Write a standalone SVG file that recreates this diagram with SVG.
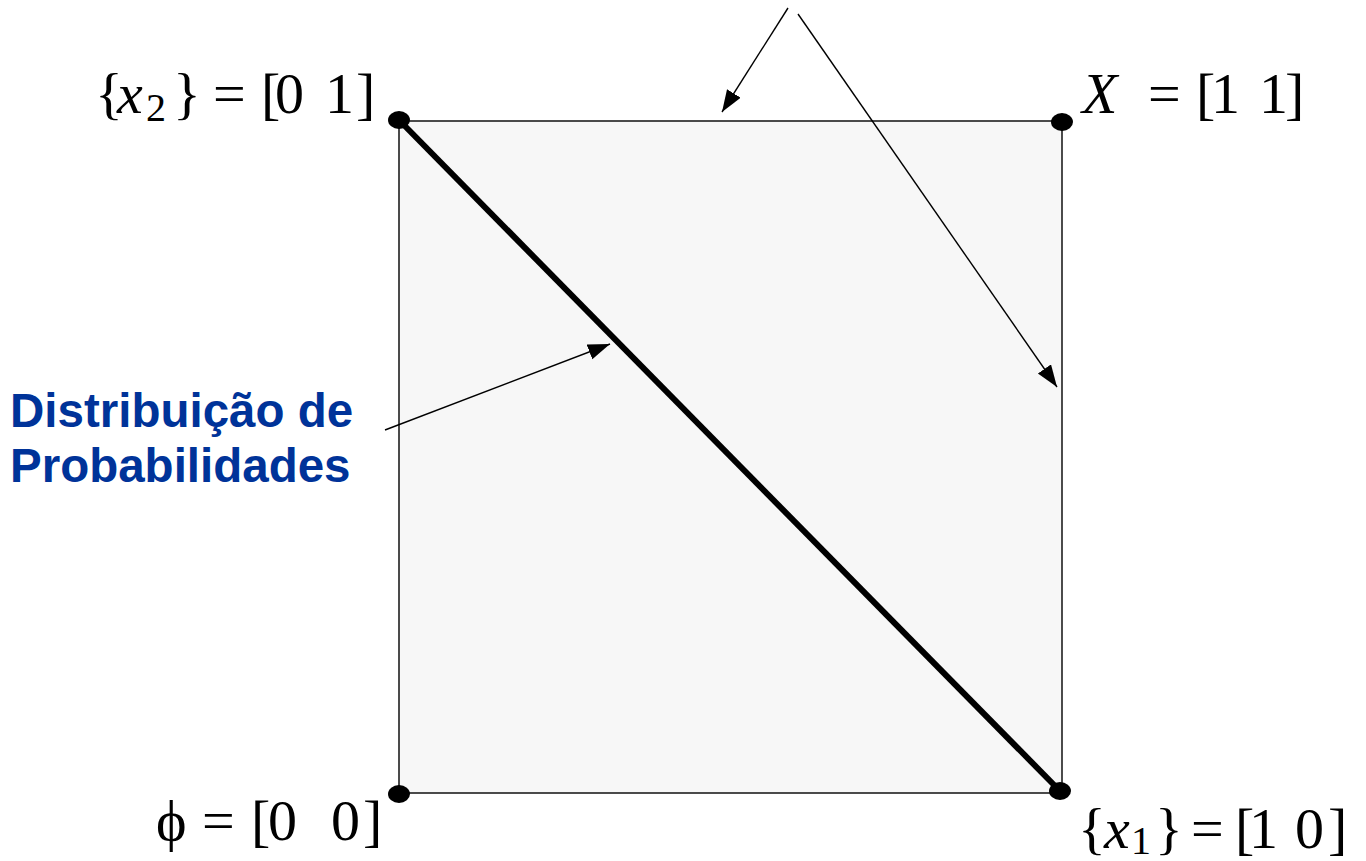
<svg xmlns="http://www.w3.org/2000/svg" width="1366" height="861" viewBox="0 0 1366 861">
<style>
.m{font-family:"Liberation Serif","Times New Roman",serif;font-size:58px;fill:#000}
.i{font-style:italic}
.s{font-size:40px}
.b{font-family:"Liberation Sans",Arial,sans-serif;font-weight:bold;font-size:47.5px;fill:#003399}
.c{stroke:#000;stroke-width:1.4;fill:none}
.dot{fill:#000}
</style>
<defs>
<marker id="ah" markerUnits="userSpaceOnUse" markerWidth="26" markerHeight="20" refX="22" refY="8" orient="auto">
<path d="M0,0 L22,8 L0,16 Z" fill="#000"/>
</marker>
</defs>
<rect width="1366" height="861" fill="#fff"/>
<g id="square">
<rect x="399" y="121" width="663" height="672" fill="#f7f7f7" stroke="#000" stroke-width="1.4"/>
</g>
<g id="distribution-line">
<line x1="399" y1="120" x2="1060" y2="791" stroke="#000" stroke-width="6"/>
</g>
<g id="node-x2">
<ellipse class="dot" cx="399" cy="120" rx="11" ry="9"/>
<text class="m" y="113"><tspan x="95">{</tspan><tspan x="117" class="i">x</tspan><tspan x="146" y="121" class="s">2</tspan><tspan x="173" y="113">}</tspan><tspan x="213">=</tspan><tspan x="261">[</tspan><tspan x="275">0</tspan><tspan x="325">1</tspan><tspan x="356">]</tspan></text>
</g>
<g id="node-X">
<ellipse class="dot" cx="1062" cy="122" rx="11" ry="9"/>
<text class="m" y="113"><tspan x="1082" class="i">X</tspan><tspan x="1148">=</tspan><tspan x="1196">[</tspan><tspan x="1211">1</tspan><tspan x="1259">1</tspan><tspan x="1285">]</tspan></text>
</g>
<g id="node-phi">
<ellipse class="dot" cx="399" cy="794" rx="11" ry="9"/>
<text class="m" y="840"><tspan x="156">ϕ</tspan><tspan x="202">=</tspan><tspan x="251">[</tspan><tspan x="268">0</tspan><tspan x="331">0</tspan><tspan x="363">]</tspan></text>
</g>
<g id="node-x1">
<ellipse class="dot" cx="1060" cy="791" rx="11" ry="9"/>
<text class="m" y="848"><tspan x="1078">{</tspan><tspan x="1104" class="i">x</tspan><tspan x="1131" y="854" class="s">1</tspan><tspan x="1155" y="848">}</tspan><tspan x="1191">=</tspan><tspan x="1235">[</tspan><tspan x="1249">1</tspan><tspan x="1295">0</tspan><tspan x="1328">]</tspan></text>
</g>
<g id="label-distribution">
<text class="b" x="10" y="427">Distribuição de</text>
<text class="b" x="10" y="482">Probabilidades</text>
</g>
<g id="connectors">
<line class="c" x1="788" y1="8" x2="722" y2="112" marker-end="url(#ah)"/>
<line class="c" x1="798" y1="14" x2="1057" y2="387" marker-end="url(#ah)"/>
<line class="c" x1="385" y1="430" x2="610" y2="344" marker-end="url(#ah)"/>
</g>
</svg>
